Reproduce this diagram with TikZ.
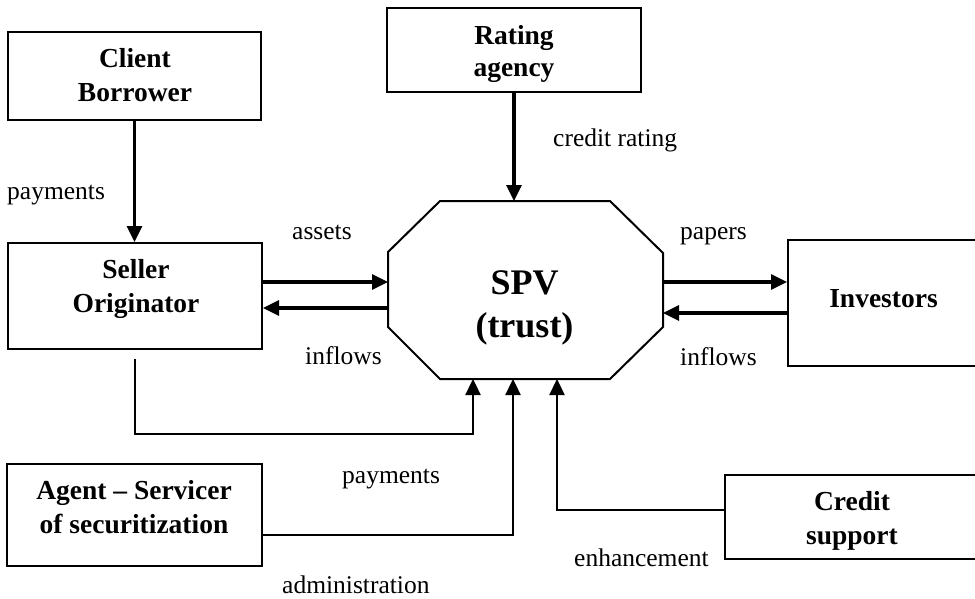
\documentclass[tikz,border=0pt]{standalone}
\usepackage{fontspec}
\setmainfont{Liberation Serif}
\usetikzlibrary{arrows.meta,calc}
\begin{document}
\begin{tikzpicture}[x=1pt,y=-1pt,
  box/.style={draw, line width=2pt, inner sep=0pt},
  boxtext/.style={inner sep=0pt, align=center, font=\bfseries\fontsize{27.5}{34}\selectfont},
  lbl/.style={inner sep=0pt, anchor=base west, font=\fontsize{25.5}{30}\selectfont},
  arr/.style={line width=3.2pt, -{Triangle[length=16pt,width=15pt]}},
  arrthin/.style={line width=2.4pt, -{Triangle[length=16pt,width=15pt]}}
]
\useasboundingbox (0,0) rectangle (975,598);
\fill[white] (0,0) rectangle (975,598);

% boxes
\node[box, minimum width=253pt, minimum height=88pt] (client) at (134.5,76) {};
\node[boxtext] (clientT) at (135,75) {Client\\Borrower};
\node[box, minimum width=254pt, minimum height=84pt] (rating) at (514,50) {};
\node[boxtext, font=\bfseries\fontsize{27.5}{31.5}\selectfont] (ratingT) at (514,54) {Rating\\agency};
\node[box, minimum width=254pt, minimum height=106pt] (seller) at (135,296) {};
\node[boxtext] (sellerT) at (136,288.7) {Seller\\Originator};
\node[box, minimum width=192pt, minimum height=126pt] (investors) at (884,303) {};
\node[boxtext] (investorsT) at (883.5,299) {Investors};
\node[box, minimum width=255pt, minimum height=102pt] (agent) at (134.5,515) {};
\node[boxtext] (agentT) at (134,506.8) {Agent – Servicer\\of securitization};
\node[box, minimum width=255pt, minimum height=84pt] (credit) at (852.5,517) {};
\node[boxtext] (creditT) at (852,520.5) {Credit\\support};

% SPV octagon
\node[inner sep=0pt, outer sep=0pt, minimum width=275pt, minimum height=178pt] (spv) at (525.5,290) {};
\draw[line width=2pt] ($(spv.north west)+(52,0)$) -- ($(spv.north east)+(-53,0)$)
  -- ($(spv.north east)+(0,52)$) -- ($(spv.south east)+(0,-52)$)
  -- ($(spv.south east)+(-53,0)$) -- ($(spv.south west)+(52,0)$)
  -- ($(spv.south west)+(0,-52)$) -- ($(spv.north west)+(0,51)$) -- cycle;
\node[boxtext, font=\bfseries\fontsize{36}{43}\selectfont] (spvT) at (524.5,307.7) {SPV\\(trust)};

% connectors
\draw[arr] (client.south) -- (client.south |- seller.north);
\draw[arr] (rating.south) -- (rating.south |- spv.north);

\coordinate (assetsS) at ($(seller.east)+(0,-14)$);
\draw[arr] (assetsS) -- (assetsS -| spv.west);
\coordinate (inflL) at ($(spv.west)+(0,18)$);
\draw[arr] (inflL) -- (inflL -| seller.east);

\coordinate (papersS) at ($(spv.east)+(0,-8)$);
\draw[arr] (papersS) -- (papersS -| investors.west);
\coordinate (inflR) at ($(investors.west)+(0,10)$);
\draw[arr] (inflR) -- (inflR -| spv.east);

\coordinate (sellerD) at ($(seller.south)+(0,9)$);
\coordinate (spvIn1) at ($(spv.south)+(-52.5,0)$);
\coordinate (bend1) at ($(spv.south)+(-52.5,55)$);
\draw[arrthin] (sellerD) |- (bend1) -- (spvIn1);

\coordinate (agentOut) at ($(agent.east)+(0,20)$);
\coordinate (spvIn2) at ($(spv.south)+(-12.5,0)$);
\draw[arrthin] (agentOut) -| (spvIn2);

\coordinate (creditOut) at ($(credit.west)+(0,-7)$);
\coordinate (spvIn3) at ($(spv.south)+(31.5,0)$);
\draw[arrthin] (creditOut) -| (spvIn3);

% labels
\node[lbl] (lpay1) at (7,199) {payments};
\node[lbl] (lassets) at (292,239) {assets};
\node[lbl] (linfl1) at (305,364) {inflows};
\node[lbl] (lrating) at (553,146) {credit rating};
\node[lbl] (lpapers) at (680,239) {papers};
\node[lbl] (linfl2) at (680,365) {inflows};
\node[lbl] (lpay2) at (342,483) {payments};
\node[lbl] (ladmin) at (282,593) {administration};
\node[lbl] (lenh) at (574,566) {enhancement};
\end{tikzpicture}
\end{document}
